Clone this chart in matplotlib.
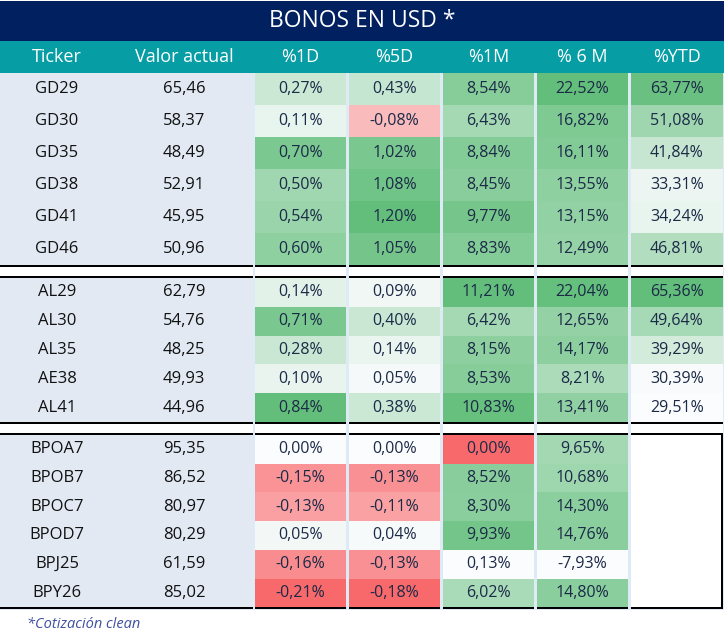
import matplotlib.pyplot as plt
import matplotlib.colors as mcolors
from matplotlib.patches import Rectangle
#
#--data
title='BONOS EN USD *'
headers=['Ticker','Valor actual','%1D','%5D','%1M','% 6 M','%YTD']
groups=[6,5,6]   #--rows in each block
tickers=['GD29','GD30','GD35','GD38','GD41','GD46',
         'AL29','AL30','AL35','AE38','AL41',
         'BPOA7','BPOB7','BPOC7','BPOD7','BPJ25','BPY26']
valor=[65.46,58.37,48.49,52.91,45.95,50.96,
       62.79,54.76,48.25,49.93,44.96,
       95.35,86.52,80.97,80.29,61.59,85.02]
ch_1d=[0.27,0.11,0.70,0.50,0.54,0.60,
       0.14,0.71,0.28,0.10,0.84,
       0.00,-0.15,-0.13,0.05,-0.16,-0.21]
ch_5d=[0.43,-0.08,1.02,1.08,1.20,1.05,
       0.09,0.40,0.14,0.05,0.38,
       0.00,-0.13,-0.11,0.04,-0.13,-0.18]
ch_1m=[8.54,6.43,8.84,8.45,9.77,8.83,
       11.21,6.42,8.15,8.53,10.83,
       0.00,8.52,8.30,9.93,0.13,6.02]
ch_6m=[22.52,16.82,16.11,13.55,13.15,12.49,
       22.04,12.65,14.17,8.21,13.41,
       9.65,10.68,14.30,14.76,-7.93,14.80]
ch_ytd=[63.77,51.08,41.84,33.31,34.24,46.81,
        65.36,49.64,39.29,30.39,29.51,
        None,None,None,None,None,None]
footnote='*Cotización clean'
#
#--layout (pixels)
W,H=724,639
row_h=[32,28.8,28.7]
col_x=[255,349,443,537,631]
col_w=[91,91,91,91,92]
navy='#002060'; teal='#069DA5'; gapc='#DEEAF6'; leftc='#E2E9F3'
txtc='#1B2A47'
cmap=mcolors.LinearSegmentedColormap.from_list('xl',['#F8696B','#FCFCFF','#63BE7B'])
#
#--colour rules per column: diverging (centre) or white->green
def colfun(vals,center=None):
    v=[x for x in vals if x is not None]
    if center is None:
        nrm=mcolors.Normalize(min(v),max(v))
        return lambda x: cmap(0.5+0.5*nrm(x))
    nrm=mcolors.TwoSlopeNorm(vcenter=center,vmin=min(v),vmax=max(v))
    return lambda x: cmap(nrm(x))
cols=[ch_1d,ch_5d,ch_1m,ch_6m,ch_ytd]
funs=[colfun(ch_1d,0.0),colfun(ch_5d,0.0),colfun(ch_1m,0.13),colfun(ch_6m),colfun(ch_ytd)]
#
fig=plt.figure(figsize=(W/100,H/100),dpi=100)
ax=fig.add_axes([0,0,1,1])
ax.set_xlim(0,W); ax.set_ylim(H,0); ax.axis('off')
font='Open Sans'
#
def box(x,y,w,h,c):
    ax.add_patch(Rectangle((x,y),w,h,facecolor=c,edgecolor='none',lw=0))
#
#--title and header
box(0,1,W,40,navy)
ax.text(W/2,21,title,color='white',fontsize=16.5,ha='center',va='center',family=font)
box(0,41,W,32,teal)
hx=[57,184]+[x+w/2 for x,w in zip(col_x,col_w)]
for x,t in zip(hx,headers):
    ax.text(x,57,t,color='white',fontsize=13,ha='center',va='center',family=font)
#
#--body background (gaps)
box(0,73,W,537,gapc)
segs=[(0,253)]+list(zip(col_x,col_w))
y=73; i=0
for g,(n,h) in enumerate(zip(groups,row_h)):
    for r in range(n):
        box(0,y,253,h,leftc)
        ax.text(57,y+h/2,tickers[i],color='#111111',fontsize=12,ha='center',va='center',family=font)
        ax.text(184,y+h/2,f'{valor[i]:.2f}'.replace('.',','),color='#111111',fontsize=12,ha='center',va='center',family=font)
        for c,(x,w) in enumerate(zip(col_x,col_w)):
            v=cols[c][i]
            if v is None:
                box(x,y,w,h,'white')
                continue
            box(x,y,w,h,funs[c](v))
            ax.text(x+w/2,y+h/2,f'{v:.2f}'.replace('.',',')+'%',color=txtc,fontsize=11.5,ha='center',va='center',family=font)
        y+=h; i+=1
    #--separator band / bottom line
    for x,w in segs:
        box(x,y,w,2,'black')
        if g<len(groups)-1:
            box(x,y+2,w,9,'white')
            box(x,y+11,w,2,'black')
    if g<len(groups)-1:
        y+=13
#--right border of blank YTD block
ystart=y-sum([row_h[-1]]*groups[-1])
box(721,ystart,2,y-ystart+2,'black')
#
ax.text(27,624,footnote,color='#3F4FA0',fontsize=10.5,style='italic',ha='left',va='center',family=font)
fig.savefig('out.png',dpi=100)
